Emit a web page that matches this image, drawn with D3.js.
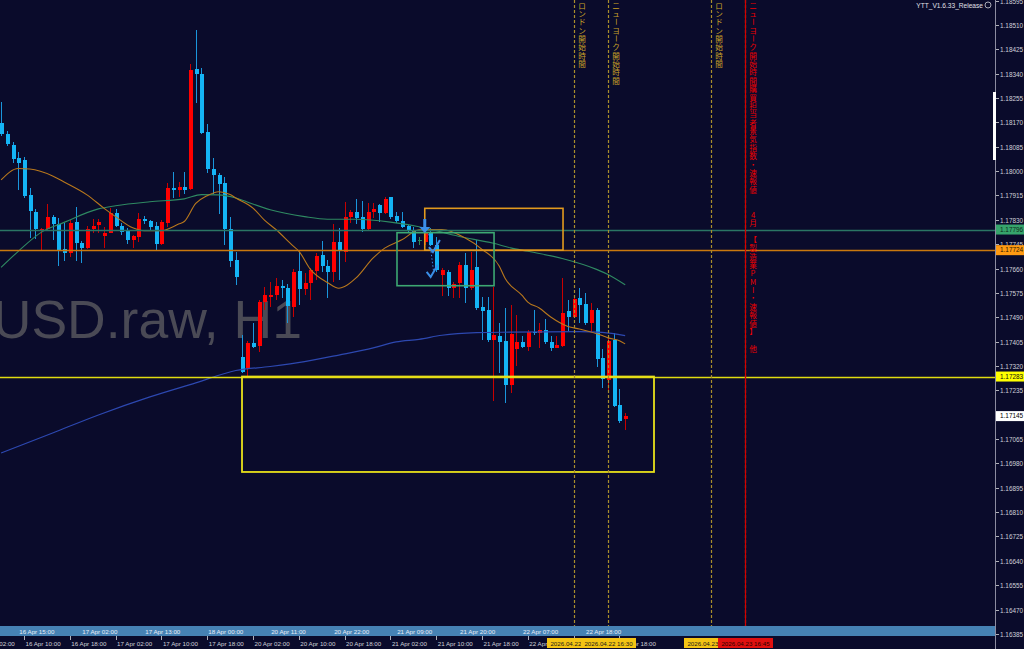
<!DOCTYPE html>
<html><head><meta charset="utf-8">
<script src="https://cdn.jsdelivr.net/npm/d3@7"></script>
<style>body{margin:0;background:#0a0b2b;overflow:hidden}svg{display:block}</style>
</head><body><svg id="c" width="1024" height="649"></svg>
<script>
// ---------- DATA ----------
const firstBar = -4; // bar index of first candle (index 0 = 16 Apr 10:00 server time)
const candleOpen = [1.18169,1.18130,1.18091,1.18046,1.18039,1.17917,1.17858,1.17791,1.17797,1.17841,
1.17815,1.17728,1.17715,1.17822,1.17750,1.17733,1.17797,1.17813,1.17774,1.17785,
1.17855,1.17809,1.17792,1.17760,1.17769,1.17833,1.17826,1.17809,1.17746,1.17820,
1.17940,1.17934,1.17946,1.17937,1.18355,1.18338,1.18135,1.18006,1.17985,1.17957,
1.17797,1.17690,1.17350,1.17314,1.17399,1.17391,1.17544,1.17562,1.17568,1.17599,
1.17591,1.17527,1.17652,1.17589,1.17609,1.17653,1.17707,1.17669,1.17649,1.17752,
1.17719,1.17841,1.17858,1.17839,1.17797,1.17858,1.17882,1.17853,1.17909,1.17843,
1.17827,1.17809,1.17795,1.17760,1.17754,1.17783,1.17742,1.17637,1.17649,1.17591,
1.17609,1.17672,1.17591,1.17664,1.17525,1.17515,1.17411,1.17426,1.17408,1.17254,
1.17379,1.17405,1.17387,1.17440,1.17436,1.17446,1.17405,1.17384,1.17391,1.17512,
1.17490,1.17556,1.17536,1.17471,1.17515,1.17347,1.17271,1.17411,1.17184,1.17134];
const candleHigh = [1.18242,1.18140,1.18103,1.18068,1.18048,1.17941,1.17868,1.17801,1.17884,1.17847,
1.17836,1.17820,1.17829,1.17875,1.17756,1.17809,1.17833,1.17833,1.17806,1.17870,
1.17867,1.17820,1.17800,1.17777,1.17853,1.17844,1.17829,1.17823,1.17829,1.17957,
1.17996,1.17961,1.17996,1.18373,1.18492,1.18359,1.18164,1.18047,1.17992,1.17980,
1.17839,1.17719,1.17428,1.17407,1.17471,1.17550,1.17597,1.17614,1.17626,1.17620,
1.17606,1.17657,1.17719,1.17645,1.17662,1.17715,1.17756,1.17690,1.17815,1.17800,
1.17893,1.17864,1.17903,1.17897,1.17888,1.17890,1.17885,1.17911,1.17911,1.17858,
1.17858,1.17812,1.17806,1.17771,1.17795,1.17800,1.17771,1.17662,1.17655,1.17614,
1.17684,1.17713,1.17719,1.17760,1.17562,1.17560,1.17597,1.17471,1.17521,1.17533,
1.17498,1.17425,1.17446,1.17515,1.17469,1.17483,1.17425,1.17425,1.17626,1.17550,
1.17568,1.17591,1.17574,1.17539,1.17522,1.17378,1.17422,1.17434,1.17240,1.17157];
const candleLow = [1.18122,1.18088,1.18029,1.17934,1.17905,1.17767,1.17762,1.17725,1.17795,1.17760,
1.17669,1.17687,1.17699,1.17687,1.17680,1.17728,1.17784,1.17785,1.17731,1.17783,
1.17805,1.17777,1.17746,1.17731,1.17754,1.17815,1.17794,1.17725,1.17742,1.17806,
1.17907,1.17911,1.17920,1.17934,1.18239,1.18128,1.17994,1.17920,1.17849,1.17742,
1.17666,1.17603,1.17295,1.17283,1.17383,1.17370,1.17515,1.17527,1.17550,1.17556,
1.17469,1.17492,1.17533,1.17568,1.17550,1.17620,1.17649,1.17556,1.17614,1.17620,
1.17684,1.17818,1.17815,1.17789,1.17795,1.17835,1.17823,1.17850,1.17832,1.17818,
1.17800,1.17783,1.17731,1.17742,1.17742,1.17739,1.17649,1.17564,1.17564,1.17556,
1.17556,1.17539,1.17585,1.17515,1.17411,1.17405,1.17199,1.17295,1.17190,1.17227,
1.17320,1.17383,1.17372,1.17428,1.17384,1.17397,1.17373,1.17382,1.17387,1.17442,
1.17487,1.17471,1.17463,1.17440,1.17318,1.17242,1.17236,1.17177,1.17120,1.17097];
const candleClose = [1.18130,1.18095,1.18041,1.18029,1.17913,1.17861,1.17797,1.17798,1.17841,1.17814,
1.17722,1.17715,1.17820,1.17749,1.17733,1.17797,1.17810,1.17822,1.17785,1.17855,
1.17809,1.17789,1.17760,1.17774,1.17832,1.17826,1.17804,1.17746,1.17822,1.17940,
1.17934,1.17946,1.17934,1.18353,1.18338,1.18132,1.18006,1.17985,1.17955,1.17797,
1.17687,1.17629,1.17300,1.17399,1.17387,1.17544,1.17568,1.17568,1.17599,1.17591,
1.17529,1.17647,1.17589,1.17611,1.17655,1.17705,1.17669,1.17649,1.17752,1.17721,
1.17839,1.17858,1.17837,1.17797,1.17856,1.17867,1.17853,1.17903,1.17839,1.17827,
1.17806,1.17795,1.17754,1.17760,1.17783,1.17742,1.17655,1.17655,1.17591,1.17606,
1.17672,1.17591,1.17655,1.17521,1.17513,1.17411,1.17428,1.17405,1.17254,1.17432,
1.17403,1.17387,1.17440,1.17434,1.17446,1.17405,1.17382,1.17393,1.17506,1.17492,
1.17553,1.17533,1.17469,1.17515,1.17343,1.17274,1.17408,1.17181,1.17128,1.17145];

// moving averages (bar index, price)
const maFastIdx = [-4,-1,1,5,7,11,14,16,19,21,24,27,28,30,32,34,36,37,40,42,44,47,48,50,53,55,56,58,61,63,66,69,73,77,80,83,84,87,88,90,92,95,97,101,102,104,105];
const maFastVal = [1.17969,1.18009,1.18007,1.17983,1.17962,1.17917,1.17870,1.17841,1.17802,1.17792,1.17792,1.17815,1.17824,1.17887,1.17914,1.17928,1.17918,1.17906,1.17871,1.17829,1.17796,1.17739,1.17721,1.17658,1.17611,1.17591,1.17597,1.17627,1.17697,1.17731,1.17760,1.17795,1.17796,1.17767,1.17727,1.17669,1.17627,1.17566,1.17543,1.17522,1.17491,1.17458,1.17449,1.17426,1.17418,1.17408,1.17397];
const maMidIdx = [-4,-1,3,7,13,16,22,28,31,34,37,39,43,49,53,58,64,69,76,82,85,88,94,100,102,105];
const maMidVal = [1.17664,1.17720,1.17786,1.17821,1.17868,1.17879,1.17893,1.17903,1.17918,1.17917,1.17906,1.17892,1.17865,1.17841,1.17832,1.17832,1.17822,1.17806,1.17772,1.17748,1.17732,1.17720,1.17695,1.17657,1.17639,1.17603];
const maSlowIdx = [-4,5,13,22,30,37,43,49,55,61,65,69,73,79,85,97,101,105];
const maSlowVal = [1.17016,1.17086,1.17149,1.17212,1.17261,1.17304,1.17318,1.17335,1.17358,1.17383,1.17404,1.17413,1.17427,1.17436,1.17438,1.17440,1.17437,1.17426];

// horizontal levels
const levelPrices = [1.17796, 1.17724, 1.17283];
const levelNames = ["green", "orange", "yellow"];
const currentPrice = 1.17145;

// rectangles [barFrom, barTo, priceLow, priceHigh]
const boxOrange = [70.0, 94.15, 1.17724, 1.17870];
const boxGreen = [65.15, 82.1, 1.17600, 1.17785];
const boxYellow = [38.08, 110.04, 1.16950, 1.17283];

// price scale ticks
const priceTicks = d3.range(0, 27).map(k => +(1.16385 + k * 0.00085).toFixed(5));

// time axis labels
const timeLabelIdx = [-8,0,8,16,24,32,40,48,56,64,72,80,88,96,104];
const timeLabels = ["16 Apr 02:00","16 Apr 10:00","16 Apr 18:00","17 Apr 02:00","17 Apr 10:00","17 Apr 18:00","20 Apr 02:00","20 Apr 10:00","20 Apr 18:00","21 Apr 02:00","21 Apr 10:00","21 Apr 18:00","22 Apr 02:00","22 Apr 10:00","22 Apr 18:00"];
const jstLabelIdx = [-1,10,21,32,43,54,65,76,87,98];
const jstLabels = ["16 Apr 15:00","17 Apr 02:00","17 Apr 13:00","18 Apr 00:00","20 Apr 11:00","20 Apr 22:00","21 Apr 09:00","21 Apr 20:00","22 Apr 07:00","22 Apr 18:00"];

// vertical session / event lines
const vTimes = ["2026.04.22 10:00","2026.04.22 16:30","2026.04.23 10:00","2026.04.23 16:30","2026.04.23 16:45"];
const vTexts = ["ロンドン開始時間","ニューヨーク開始時間","ロンドン開始時間","ニューヨーク開始時間",
  "ニューヨーク開始時間購買担当者景気指数・速報値  4月 【製造業PMI・速報値】 他"];
const vKinds = ["session","session","session","session","event"];

// trade marks
const sellArrow = [70.0, 1.17833, 1.17784];
const closeMarks = [[71.6, 1.17735],[71.2, 1.17648]];

// ---------- DRAW ----------
const svg = d3.select('#c');
const W = 1024, H = 649, PR = 995, PB = 626;
const x = d3.scaleLinear().domain([-4.19, 169.6]).range([0, 995]);
const y = d3.scaleLinear().domain([1.16409, 1.18597]).range([627, 0]);

function barOf(t) {
  const m = t.match(/(\d+)\.(\d+)\.(\d+) (\d+):(\d+)/);
  const d = Date.UTC(+m[1], +m[2]-1, +m[3], +m[4], +m[5]);
  let h = (d - Date.UTC(2026,3,16,10,0)) / 3600000;
  if (d >= Date.UTC(2026,3,20,0,0)) h -= 48;
  return Math.floor(h);
}

svg.append('rect').attr('width', W).attr('height', H).attr('fill', '#0a0b2b');
const defs = svg.append('defs');
defs.append('clipPath').attr('id','plot').append('rect').attr('x',0).attr('y',0).attr('width',PR).attr('height',PB);

const plot = svg.append('g').attr('clip-path','url(#plot)');

// watermark
plot.append('text').attr('x', 302).attr('y', 338).attr('text-anchor','end')
  .attr('font-family','Liberation Sans, Arial, sans-serif').attr('font-size', 53.5)
  .attr('fill','#4a4a55').text('EURUSD.raw, H1');

// candles
const bars = candleOpen.map((o,i)=>({i: firstBar+i, o, h: candleHigh[i], l: candleLow[i], c: candleClose[i]}));
const cg = plot.append('g').attr('shape-rendering','crispEdges');
bars.forEach(b => {
  const cx = Math.round(x(b.i));
  const up = b.c > b.o, doji = b.c === b.o;
  const wickCol = doji ? '#2e8b57' : (up ? '#c80000' : '#1a96dc');
  const bodyCol = doji ? '#2e8b57' : (up ? '#ff0000' : '#14b4f5');
  cg.append('line').attr('x1', cx+0.5).attr('x2', cx+0.5).attr('y1', y(b.h)).attr('y2', y(b.l)).attr('stroke', wickCol).attr('stroke-width',1);
  const top = y(Math.max(b.o,b.c)), bot = y(Math.min(b.o,b.c));
  cg.append('rect').attr('x', cx-1.5).attr('width', 4).attr('y', top).attr('height', Math.max(1, bot-top)).attr('fill', bodyCol);
});

// moving averages
const line = d3.line().x(d=>x(d[0])).y(d=>y(d[1])).curve(d3.curveMonotoneX);
plot.append('path').datum(maSlowIdx.map((v,i)=>[v, maSlowVal[i]])).attr('d', line).attr('fill','none').attr('stroke','#2d48b0').attr('stroke-width',1.2);
plot.append('path').datum(maMidIdx.map((v,i)=>[v, maMidVal[i]])).attr('d', line).attr('fill','none').attr('stroke','#2f8a62').attr('stroke-width',1.1);
plot.append('path').datum(maFastIdx.map((v,i)=>[v, maFastVal[i]])).attr('d', line).attr('fill','none').attr('stroke','#b9781c').attr('stroke-width',1.1);

// horizontal levels
const levelCol = {green:'#2a7564', orange:'#c9780e', yellow:'#e0dc10'};
levelPrices.forEach((p,i)=>{
  plot.append('line').attr('x1',0).attr('x2',PR).attr('y1',Math.round(y(p))+0.5).attr('y2',Math.round(y(p))+0.5)
    .attr('stroke', levelCol[levelNames[i]]).attr('stroke-width', levelNames[i]==='yellow'?1.6:1.5);
});

// rectangles
function box(b, col, w) {
  plot.append('rect').attr('x', x(b[0])).attr('y', y(b[3])).attr('width', x(b[1])-x(b[0])).attr('height', y(b[2])-y(b[3]))
    .attr('fill','none').attr('stroke', col).attr('stroke-width', w);
}
box(boxOrange, '#e29a1e', 1.6);
box(boxGreen, '#3da872', 1.6);
box(boxYellow, '#e8e01a', 1.8);

// trade marks
const ax = x(sellArrow[0]), ay1 = y(sellArrow[1]), ay2 = y(sellArrow[2]);
plot.append('path').attr('d', `M${ax-1.5},${ay1} h3 v${(ay2-ay1)-6} h4 L${ax},${ay2} L${ax-5.5},${ay2-6} h4 Z`).attr('fill','#3a8ee8');
plot.append('path').attr('d', `M${ax+4},${ay2+1} L${x(closeMarks[1][0])+2},${y(closeMarks[1][1])}`).attr('stroke','#3a8ee8').attr('stroke-dasharray','1.5,2').attr('stroke-width',1);
closeMarks.forEach(m=>{
  const mx = x(m[0]), my = y(m[1]);
  plot.append('path').attr('d', `M${mx-5},${my} L${mx-1},${my+5} L${mx+6},${my-7}`).attr('fill','none').attr('stroke','#3a8ee8').attr('stroke-width',2);
});

// vertical lines + vertical texts
const vX = vTimes.map(t => Math.round(x(barOf(t))) + 0.5);
vTimes.forEach((t,k)=>{
  const bx = vX[k];
  const ev = vKinds[k]==='event';
  plot.append('line').attr('x1',bx).attr('x2',bx).attr('y1',0).attr('y2',PB)
    .attr('stroke', ev ? '#d40000' : '#a88e2c').attr('stroke-width',1.2)
    .attr('stroke-dasharray', ev ? null : '3,2');
  // texts hidden exactly under a later text in the same column are skipped
  if (vX.slice(k+1).some(v => v === bx)) return;
  const chars = Array.from(vTexts[k]);
  const tg = svg.append('g').attr('font-family','Noto Sans CJK JP, sans-serif').attr('font-size',7.6)
    .attr('fill', ev ? '#ee0000' : '#c9a227');
  chars.forEach((ch,j)=>{
    if (ch === ' ') return;
    const cy = 5 + j*8.37, cxx = bx + 7.5;
    const te = tg.append('text').attr('x', cxx).attr('y', cy).attr('text-anchor','middle').attr('dominant-baseline','central').text(ch);
    if (ch === 'ー') te.attr('transform', `rotate(90 ${cxx} ${cy})`);
  });
});

// ---------- TIME AXIS ----------
svg.append('rect').attr('x',0).attr('y',626).attr('width',PR).attr('height',10).attr('fill','#4682b4');
const axF = 'Liberation Sans, Arial, sans-serif';
jstLabelIdx.forEach((v,i)=>{
  svg.append('text').attr('x', x(v)+1).attr('y', 633.6).attr('font-family',axF).attr('font-size',6.2)
    .attr('fill','#e6eef8').text(jstLabels[i]);
});
// extents of the date tags under the vertical lines (they cover the time labels)
const tagSpans = vX.map(v => [v-27.5, v+27.5]);
timeLabelIdx.forEach((v,i)=>{
  const tx = Math.round(x(v))+0.5;
  svg.append('line').attr('x1',tx).attr('x2',tx).attr('y1',636).attr('y2',640).attr('stroke','#b0b0b8');
  const x0 = x(v)+1.5, x1 = x0 + 38;
  if (tagSpans.some(s => x0 >= s[0] && x1 <= s[1])) return; // fully hidden
  svg.append('text').attr('x', x0).attr('y', 646).attr('font-family',axF).attr('font-size',6.2)
    .attr('fill','#d0d0d8').text(timeLabels[i]);
});
// vertical line date tags
vTimes.forEach((t,k)=>{
  const bx = vX[k];
  const ev = vKinds[k]==='event';
  svg.append('rect').attr('x', bx-27.5).attr('y',638).attr('width',55).attr('height',10).attr('fill', ev ? '#e01010' : '#f4c414');
  if (vX.slice(k+1).some(v => v === bx)) return;
  svg.append('text').attr('x', bx).attr('y', 646).attr('text-anchor','middle').attr('font-family',axF).attr('font-size',6.2)
    .attr('fill', ev ? '#2a0000' : '#1a1a1a').text(t);
});

// ---------- PRICE AXIS ----------
svg.append('line').attr('x1',995.5).attr('x2',995.5).attr('y1',0).attr('y2',H).attr('stroke','#8c8ca0').attr('stroke-width',1);
svg.append('rect').attr('x',993).attr('y',92).attr('width',3).attr('height',68).attr('fill','#ffffff');
priceTicks.forEach(p=>{
  const py = Math.round(y(p))+0.5;
  svg.append('line').attr('x1',996).attr('x2',999).attr('y1',py).attr('y2',py).attr('stroke','#b0b0b8');
  svg.append('text').attr('x',1000).attr('y',py+2.3).attr('font-family',axF).attr('font-size',6.4)
    .attr('fill','#d0d0d8').text(p.toFixed(5));
});
const tagCol = {green:['#36a46c','#0c2a1a'], orange:['#ff9a12','#2a1600'], yellow:['#ffff00','#111111']};
levelPrices.forEach((p,i)=>{
  const c = tagCol[levelNames[i]], py = y(p);
  svg.append('rect').attr('x',996).attr('y',py-5).attr('width',28).attr('height',10).attr('fill',c[0]);
  svg.append('text').attr('x',1000).attr('y',py+2.3).attr('font-family',axF).attr('font-size',6.4).attr('fill',c[1]).text(p.toFixed(5));
});
{
  const py = y(currentPrice);
  svg.append('rect').attr('x',996).attr('y',py-5).attr('width',28).attr('height',10).attr('fill','#ffffff');
  svg.append('text').attr('x',1000).attr('y',py+2.3).attr('font-family',axF).attr('font-size',6.4).attr('fill','#000').text(currentPrice.toFixed(5));
}

// top-right caption
svg.append('text').attr('x',983).attr('y',7.5).attr('text-anchor','end').attr('font-family',axF).attr('font-size',6.6)
  .attr('fill','#e0e0e8').text('YTT_V1.6.33_Release');
svg.append('circle').attr('cx',988).attr('cy',5).attr('r',3).attr('fill','none').attr('stroke','#d0d0d8').attr('stroke-width',0.8);
</script></body></html>
